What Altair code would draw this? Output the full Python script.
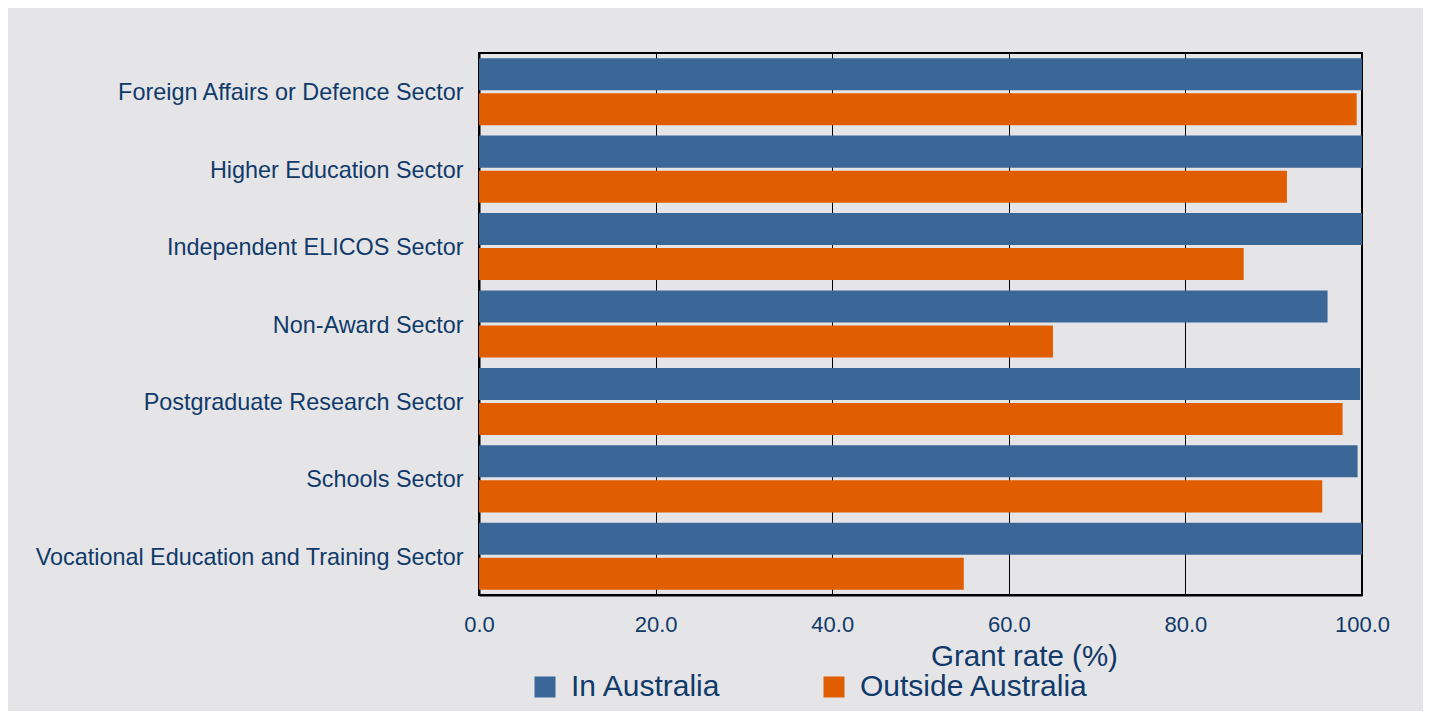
import altair as alt
import pandas as pd

sectors = [
    "Foreign Affairs or Defence Sector",
    "Higher Education Sector",
    "Independent ELICOS Sector",
    "Non-Award Sector",
    "Postgraduate Research Sector",
    "Schools Sector",
    "Vocational Education and Training Sector",
]
series = ["In Australia", "Outside Australia"]
in_australia = [100.0, 100.0, 100.0, 96.1, 99.8, 99.5, 100.0]
outside_australia = [99.4, 91.5, 86.6, 65.0, 97.8, 95.5, 54.9]
x_ticks = [0, 20, 40, 60, 80, 100]

rows = []
for s, a, b in zip(sectors, in_australia, outside_australia):
    rows.append({"sector": s, "series": series[0], "rate": a})
    rows.append({"sector": s, "series": series[1], "rate": b})
df = pd.DataFrame(rows)

TXT = "#103a6a"
FONT = "Liberation Sans"

chart = alt.Chart(df).mark_bar().encode(
    y=alt.Y("sector:N", sort=sectors, title=None,
            scale=alt.Scale(paddingInner=0.134, paddingOuter=0.067),
            axis=alt.Axis(labelFontSize=23.4, labelColor=TXT, labelFont=FONT,
                          ticks=False, labelPadding=16, labelOffset=1.5,
                          domainColor="black", domainWidth=2, labelLimit=600)),
    yOffset=alt.YOffset("series:N", sort=series,
                        scale=alt.Scale(paddingInner=0.086, paddingOuter=0)),
    x=alt.X("rate:Q", title="Grant rate (%)",
            scale=alt.Scale(domain=[0, 100], nice=False),
            axis=alt.Axis(values=x_ticks, format=".1f", labelFontSize=22,
                          labelColor=TXT, labelFont=FONT, ticks=False,
                          labelFlush=False, labelPadding=19, grid=True,
                          gridColor="black", gridWidth=1, gridOpacity=1,
                          domainColor="black", domainWidth=2,
                          titleFontSize=29.5, titleColor=TXT, titleFont=FONT,
                          titleFontWeight="normal", titleX=545, titleY=70,
                          titleAlign="center", titleBaseline="alphabetic")),
    color=alt.Color("series:N", sort=series,
                    scale=alt.Scale(domain=series, range=["#3b6698", "#e05e00"]),
                    legend=alt.Legend(title=None, orient="none", direction="horizontal",
                                      legendX=51, legendY=619, symbolType="square",
                                      symbolSize=441, symbolStrokeWidth=0,
                                      symbolOpacity=1, labelFontSize=30,
                                      labelColor=TXT, labelFont=FONT,
                                      labelOffset=11, columnPadding=97,
                                      padding=0, labelLimit=600)),
).properties(
    width=883,
    height=542,
    background="#e5e5e8",
    padding={"left": 471, "top": 45, "right": 61, "bottom": 116},
    autosize=alt.AutoSizeParams(type="none"),
).configure_view(
    stroke="black", strokeWidth=2, fill="#e5e5e8"
)

chart.save("out.html", embed_options={"renderer": "svg", "actions": False})
